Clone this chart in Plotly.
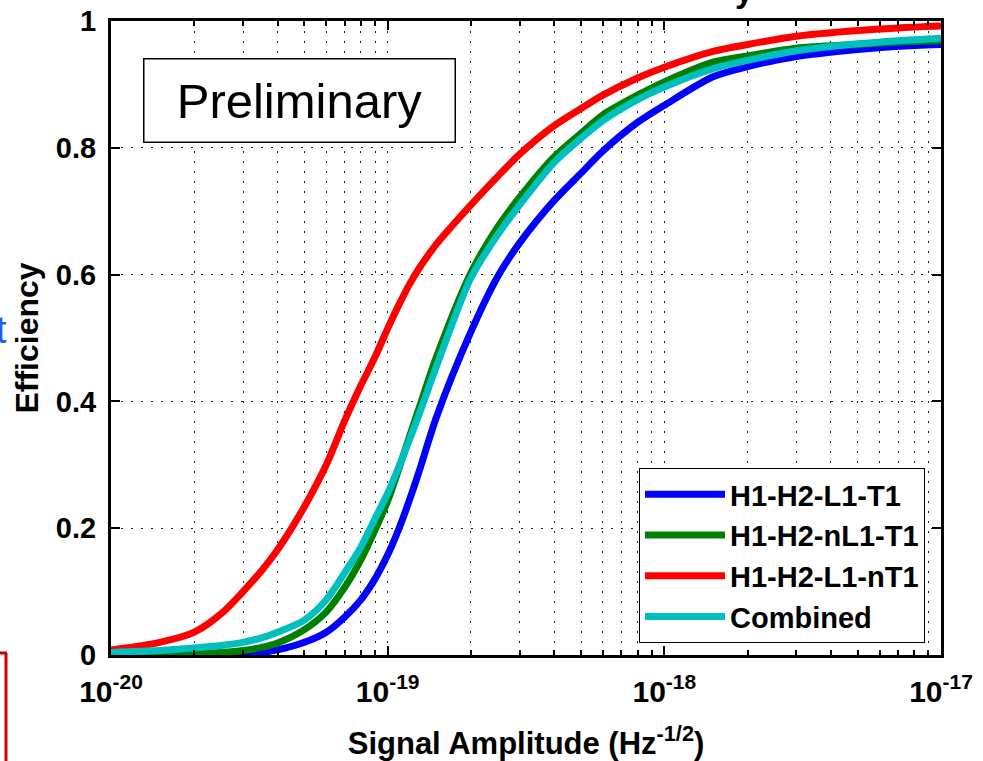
import plotly.graph_objects as go

# ---- data ----
amplitude = [1e-20, 1.5e-20, 2e-20, 2.5e-20, 3e-20, 3.5e-20, 4e-20, 5e-20, 6e-20, 7e-20,
             8e-20, 9e-20, 1e-19, 1.1e-19, 1.2e-19, 1.3e-19, 1.5e-19, 2e-19, 2.5e-19, 3e-19,
             4e-19, 5e-19, 6e-19, 8e-19, 1e-18, 1.5e-18, 2e-18, 3e-18, 5e-18, 7e-18, 1e-17]

eff_h1h2l1t1 = [0.0, 0.0, 0.0, 0.0, 0.001, 0.004, 0.008, 0.020, 0.036, 0.060,
                0.087, 0.120, 0.158, 0.200, 0.245, 0.290, 0.375, 0.510, 0.597, 0.650,
                0.717, 0.760, 0.795, 0.840, 0.867, 0.912, 0.928, 0.944, 0.955, 0.960, 0.963]

eff_h1h2nl1t1 = [0.002, 0.002, 0.002, 0.004, 0.007, 0.012, 0.019, 0.040, 0.068, 0.107,
                 0.150, 0.197, 0.243, 0.295, 0.345, 0.390, 0.470, 0.603, 0.675, 0.722,
                 0.786, 0.823, 0.852, 0.883, 0.904, 0.935, 0.945, 0.957, 0.963, 0.967, 0.969]

eff_h1h2l1nt1 = [0.008, 0.020, 0.036, 0.065, 0.100, 0.133, 0.166, 0.234, 0.300, 0.370,
                 0.425, 0.470, 0.515, 0.553, 0.585, 0.610, 0.648, 0.710, 0.755, 0.790,
                 0.835, 0.862, 0.883, 0.910, 0.927, 0.952, 0.963, 0.976, 0.985, 0.989, 0.992]

eff_combined = [0.004, 0.007, 0.011, 0.015, 0.020, 0.027, 0.036, 0.055, 0.087, 0.130,
                0.170, 0.215, 0.255, 0.298, 0.340, 0.380, 0.455, 0.595, 0.663, 0.710,
                0.777, 0.815, 0.843, 0.876, 0.896, 0.925, 0.938, 0.953, 0.964, 0.969, 0.973]

series_names = ["H1-H2-L1-T1", "H1-H2-nL1-T1", "H1-H2-L1-nT1", "Combined"]
series_values = [eff_h1h2l1t1, eff_h1h2nl1t1, eff_h1h2l1nt1, eff_combined]
series_colors = ["#0000FF", "#008000", "#FF0000", "#00BFBF"]

x_tick_vals = [1e-20, 1e-19, 1e-18, 1e-17]
x_tick_text = ["10<sup>-20</sup>", "10<sup>-19</sup>", "10<sup>-18</sup>", "10<sup>-17</sup>"]
x_minor_vals = [m * 10.0 ** e for e in (-20, -19, -18) for m in range(2, 10)]
y_tick_vals = [0, 0.2, 0.4, 0.6, 0.8, 1]
y_tick_text = ["0", "0.2", "0.4", "0.6", "0.8", "1"]

FONT = "Liberation Sans, Arial, sans-serif"

fig = go.Figure()
for name, vals, col in zip(series_names, series_values, series_colors):
    fig.add_trace(go.Scatter(x=amplitude, y=vals, mode="lines", name=name,
                             line=dict(color=col, width=7, shape="spline", smoothing=0.8)))

L, R, T, B = 111, 42, 21, 106
W, H = 983, 761
pw, ph = W - L - R, H - T - B


def px(x):
    return (x - L) / pw


def py(y):
    return (H - B - y) / ph


grid = dict(showgrid=True, gridcolor="#222222", gridwidth=1.2, griddash="2px,8px")

fig.update_layout(
    width=W, height=H,
    margin=dict(l=L, r=R, t=T, b=B, autoexpand=False),
    paper_bgcolor="white", plot_bgcolor="white",
    font=dict(family=FONT, color="black"),
    showlegend=True,
    legend=dict(x=px(925), y=py(643), xanchor="right", yanchor="bottom",
                bgcolor="white", bordercolor="black", borderwidth=1,
                font=dict(family=FONT, size=29, color="black", weight="bold"),
                itemwidth=80, tracegroupgap=0),
    xaxis=dict(type="log", range=[-20, -17],
               tickmode="array", tickvals=x_tick_vals, ticktext=x_tick_text,
               ticks="inside", ticklen=9, tickwidth=2, tickcolor="black",
               showline=True, linewidth=3, linecolor="black", mirror="ticks",
               tickfont=dict(family=FONT, size=30, weight="bold"),
               ticklabelstandoff=8,
               minor=dict(tickvals=x_minor_vals, ticks="inside", ticklen=5,
                          tickwidth=1.5, tickcolor="black", **grid),
               title=dict(text="Signal Amplitude (Hz<sup>-1/2</sup>)",
                          font=dict(family=FONT, size=31, weight="bold"), standoff=26),
               zeroline=False, **grid),
    yaxis=dict(range=[0, 1], tickmode="array", tickvals=y_tick_vals, ticktext=y_tick_text,
               ticks="inside", ticklen=9, tickwidth=2, tickcolor="black",
               showline=True, linewidth=3, linecolor="black", mirror="ticks",
               tickfont=dict(family=FONT, size=29, weight="bold"),
               ticklabelstandoff=6,
               title=dict(text="Efficiency",
                          font=dict(family=FONT, size=32, weight="bold"), standoff=8),
               zeroline=False, **grid),
)

# "Preliminary" box
fig.add_annotation(xref="paper", yref="paper", x=px(299), y=py(100),
                   xanchor="center", yanchor="middle",
                   text="Preliminary", showarrow=False,
                   font=dict(family=FONT, size=49, color="black"),
                   bgcolor="white", bordercolor="black", borderwidth=1.5,
                   width=306, height=78, borderpad=2)

# cropped fragments at the edges of the source image
fig.add_annotation(xref="paper", yref="paper", x=px(744), y=py(-30),
                   xanchor="center", yanchor="top", text="y", showarrow=False,
                   font=dict(family=FONT, size=33, color="black", weight="bold"))
fig.add_annotation(xref="paper", yref="paper", x=px(9), y=py(330),
                   xanchor="right", yanchor="middle", text="t", showarrow=False,
                   font=dict(family=FONT, size=38, color="#1f5bff"))
fig.add_shape(type="line", xref="paper", yref="paper", x0=px(0), x1=px(7),
              y0=py(653), y1=py(653), line=dict(color="#cc0000", width=3))
fig.add_shape(type="line", xref="paper", yref="paper", x0=px(6), x1=px(6),
              y0=py(653), y1=py(761), line=dict(color="#cc0000", width=3))

fig.write_html("out.html")
